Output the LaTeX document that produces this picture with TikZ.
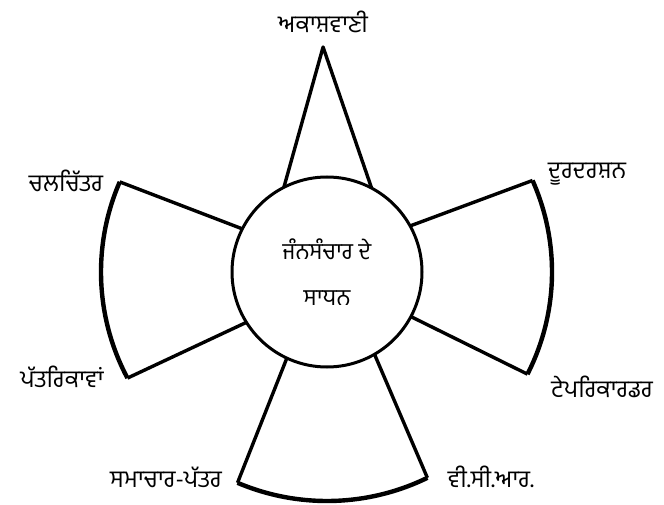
\documentclass[tikz,border=0pt]{standalone}
\usepackage{fontspec}
\newfontfamily\gurfont[Script=Gurmukhi]{Hind Jalandhar}
\usetikzlibrary{calc,positioning}

\begin{document}
\begin{tikzpicture}[
    x=1pt, y=1pt,
    hubnode/.style={draw, circle, line width=3pt, minimum size=190pt, inner sep=0pt, outer sep=0pt, align=center, font=\gurfont\fontsize{23}{26}\selectfont},
    petal/.style={line width=3.4pt, line join=round},
    rim/.style={line width=4.4pt},
    lbl/.style={inner sep=0pt, font=\gurfont\fontsize{24}{26}\selectfont}
]
\useasboundingbox (0,0) rectangle (664,504);

% Centre
\node[hubnode] (hub) at (327,232) {ਜੰਨਸੰਚਾਰ ਦੇ\\[20pt]ਸਾਧਨ};

% Outer corners
\coordinate (apex) at ($(hub.center)+(91:225)$);
\coordinate (lt) at ($(hub.center)+(156.5:226)$);
\coordinate (lb) at ($(hub.center)+(208:226)$);
\coordinate (rt) at ($(hub.center)+(24:225)$);
\coordinate (rb) at ($(hub.center)+(-27:225)$);
\coordinate (bl) at ($(hub.center)+(247:229)$);
\coordinate (br) at ($(hub.center)+(296:229)$);

% Petals
\draw[petal] (hub.117) -- (apex) -- (hub.62);
\draw[petal] (hub.153) -- (lt);
\draw[petal] (hub.212) -- (lb);
\draw[rim] (lt) arc[start angle=156.5, end angle=208, radius=226pt];
\draw[petal] (hub.29) -- (rt);
\draw[petal] (hub.-28.5) -- (rb);
\draw[rim] (rt) arc[start angle=24, end angle=-27, radius=225pt];
\draw[petal] (hub.245) -- (bl);
\draw[petal] (hub.300) -- (br);
\draw[rim] (bl) arc[start angle=247, end angle=296, radius=229pt];

% Labels
\node[lbl] (akash) at (323,482) {ਅਕਾਸ਼ਵਾਣੀ};
\node[lbl] (chal) at (66,323) {ਚਲਚਿੱਤਰ};
\node[lbl] (patr) at (62,127) {ਪੱਤਰਿਕਾਵਾਂ};
\node[lbl] (door) at (587,330) {ਦੂਰਦਰਸ਼ਨ};
\node[lbl] (tape) at (602,117) {ਟੇਪਰਿਕਾਰਡਰ};
\node[lbl] (samachar) at (166,27) {ਸਮਾਚਾਰ-ਪੱਤਰ};
\node[lbl] (vcr) at (491,27) {ਵੀ.ਸੀ.ਆਰ.};

\end{tikzpicture}
\end{document}
